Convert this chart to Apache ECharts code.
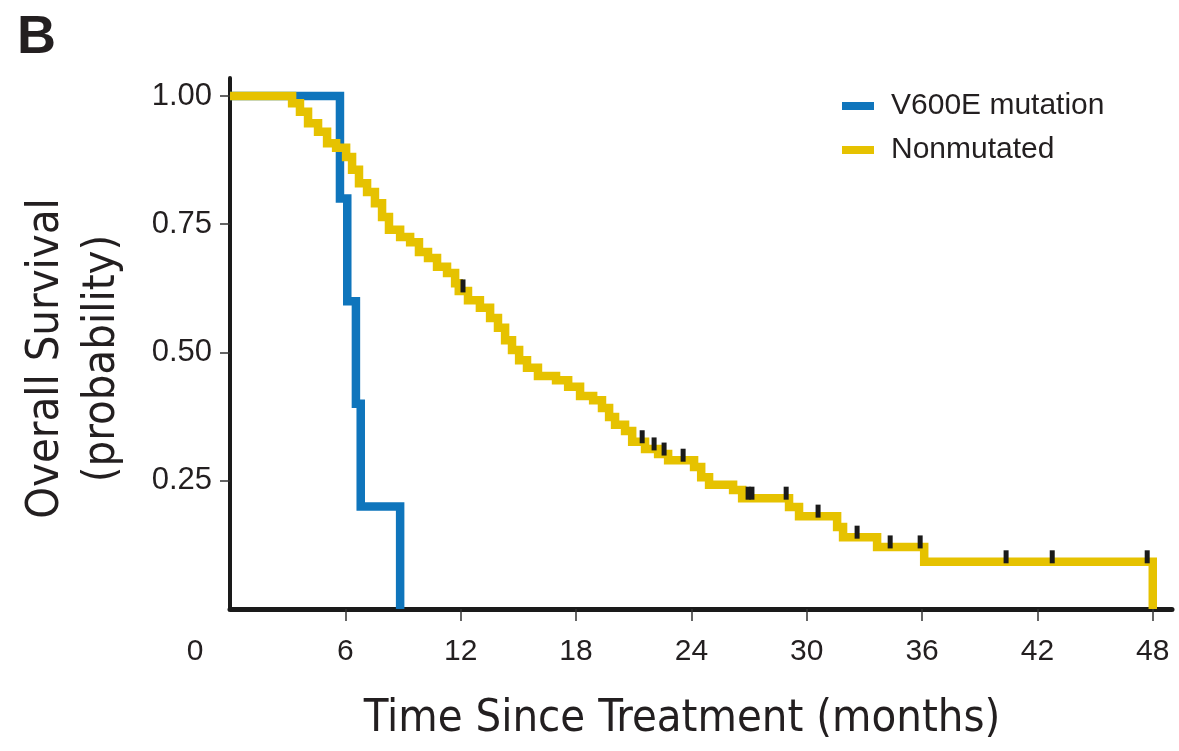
<!DOCTYPE html>
<html>
<head>
<meta charset="utf-8">
<script src="https://cdn.jsdelivr.net/npm/echarts@6/dist/echarts.min.js"></script>
<style>
  html, body { margin: 0; padding: 0; background: #fff; }
  #main { width: 1179px; height: 751px; }
</style>
</head>
<body>
<div id="main"></div>
<script>
  // 坐标轴刻度
  const monthTicks = [0, 6, 12, 18, 24, 30, 36, 42, 48]
  const survivalTicks = [0.25, 0.5, 0.75, 1]

  // V600E 突变组 (Kaplan-Meier 阶梯)
  const mutTimes = [0, 5.72, 6.1, 6.55, 6.8, 8.85]
  const mutSurv = [1, 0.8, 0.6, 0.4, 0.2, 0]

  // 未突变组
  const nonTimes = [0, 3.23, 3.64, 4.06, 4.58, 5.05, 5.52, 6.04, 6.35, 6.71, 7.13, 7.54, 7.91, 8.27,
    8.85, 9.37, 9.83, 10.3, 10.77, 11.29, 11.71, 11.9, 12.38, 13.0, 13.53, 13.94, 14.31, 14.67,
    15.04, 15.45, 16.02, 16.96, 17.59, 18.21, 18.89, 19.35, 19.72, 20.03, 20.55, 20.92, 21.59,
    22.27, 22.79, 24.14, 24.51, 24.92, 26.17, 26.64, 29.08, 29.6, 31.58, 31.89, 33.66, 36.11, 48.0]
  const nonSurv = [1, 0.986, 0.969, 0.947, 0.93, 0.908, 0.899, 0.881, 0.856, 0.83, 0.813, 0.791, 0.764, 0.739,
    0.725, 0.715, 0.696, 0.684, 0.667, 0.655, 0.635, 0.62, 0.602, 0.587, 0.567, 0.548, 0.524, 0.505,
    0.485, 0.47, 0.454, 0.446, 0.433, 0.415, 0.407, 0.392, 0.374, 0.359, 0.347, 0.326, 0.312,
    0.302, 0.29, 0.277, 0.257, 0.242, 0.232, 0.216, 0.199, 0.181, 0.16, 0.14, 0.121, 0.092, 0]

  // 删失时间 (未突变组)
  const censorTimes = [12.12, 21.44, 22.06, 22.58, 23.57, 26.95, 27.15, 28.93, 30.59, 32.62,
    34.34, 35.9, 40.37, 42.77, 47.71]

  const BLUE = '#0f75bc'
  const YELLOW = '#e6c200'
  const INK = '#231f20'
  const NARROW = "'Liberation Sans Narrow', 'DejaVu Sans Condensed', sans-serif"
  const SANS = "'Liberation Sans', Arial, sans-serif"

  const pairs = (xs, ys) => xs.map((x, i) => [x, ys[i]])

  // 删失点取该时刻的生存率
  const survAt = (t) => {
    let s = nonSurv[0]
    nonTimes.forEach((x, i) => { if (x <= t) s = nonSurv[i] })
    return s
  }

  const chart = echarts.init(document.getElementById('main'))
  chart.setOption({
    animation: false,
    backgroundColor: '#fff',
    title: {
      text: 'B',
      left: 12,
      top: 6,
      textStyle: { fontFamily: SANS, fontSize: 54, fontWeight: 'bold', color: INK }
    },
    legend: {
      orient: 'vertical',
      left: 837,
      top: 86,
      icon: 'rect',
      itemWidth: 32,
      itemHeight: 8,
      itemGap: 14,
      data: ['V600E mutation', 'Nonmutated'],
      textStyle: { fontFamily: SANS, fontSize: 30, color: INK, padding: [0, 0, 0, 12] }
    },
    grid: { left: 230, right: 7, top: 78, bottom: 142, containLabel: false, outerBoundsMode: 'none' },
    xAxis: {
      type: 'value',
      min: 0,
      max: 49,
      name: 'Time Since Treatment (months)',
      nameLocation: 'middle',
      nameGap: 88,
      nameTextStyle: { fontFamily: NARROW, fontSize: 45, color: INK, padding: [0, 38, 0, 0] },
      splitLine: { show: false },
      axisLine: { lineStyle: { color: '#1a1a1a', width: 5 } },
      axisTick: {
        length: 12,
        customValues: monthTicks.filter(v => v > 0),
        lineStyle: { color: '#333', width: 1.5 }
      },
      axisLabel: {
        customValues: monthTicks,
        margin: 28,
        fontFamily: SANS,
        fontSize: 30,
        color: INK,
        formatter: v => v === 0 ? '{z|0}' : String(v),
        rich: { z: { fontFamily: SANS, fontSize: 30, color: INK, padding: [0, 70, 0, 0] } }
      }
    },
    yAxis: {
      type: 'value',
      min: 0,
      max: 1.035,
      name: 'Overall Survival\n(probability)',
      nameLocation: 'middle',
      nameGap: 100,
      nameRotate: 90,
      nameTextStyle: { fontFamily: NARROW, fontSize: 45, lineHeight: 56, color: INK, padding: [0, 30, 0, 0] },
      splitLine: { show: false },
      axisLine: { lineStyle: { color: '#1a1a1a', width: 4 } },
      axisTick: {
        length: 10,
        customValues: survivalTicks,
        lineStyle: { color: '#333', width: 1.5 }
      },
      axisLabel: {
        customValues: survivalTicks,
        margin: 18,
        fontFamily: SANS,
        fontSize: 31,
        color: INK,
        formatter: v => v.toFixed(2)
      }
    },
    series: [
      {
        name: 'V600E mutation',
        type: 'line',
        step: 'end',
        showSymbol: false,
        symbol: 'none',
        color: BLUE,
        lineStyle: { width: 8.5, color: BLUE, join: 'miter' },
        data: pairs(mutTimes, mutSurv)
      },
      {
        name: 'Nonmutated',
        type: 'line',
        step: 'end',
        showSymbol: false,
        symbol: 'none',
        color: YELLOW,
        lineStyle: { width: 8.5, color: YELLOW, join: 'miter' },
        data: pairs(nonTimes, nonSurv)
      },
      {
        name: 'censored',
        type: 'scatter',
        symbol: 'rect',
        symbolSize: [5, 13],
        symbolOffset: [0, -5],
        itemStyle: { color: '#1a1a1a', opacity: 1 },
        z: 5,
        data: censorTimes.map(t => [t, survAt(t)])
      }
    ]
  })
</script>
</body>
</html>
